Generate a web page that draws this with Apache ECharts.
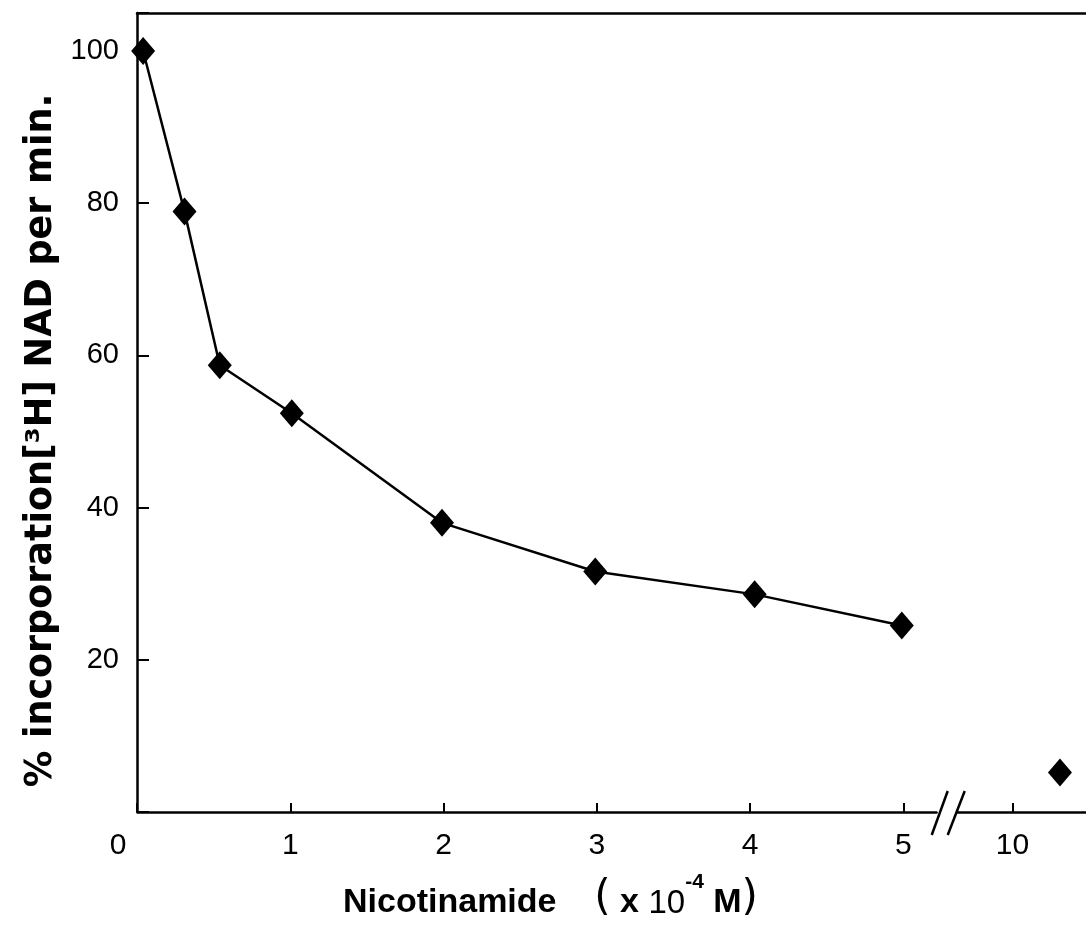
<!DOCTYPE html>
<html>
<head>
<meta charset="utf-8">
<script src="https://cdn.jsdelivr.net/npm/echarts@6/dist/echarts.min.js"></script>
<style>
  html, body { margin: 0; padding: 0; background: #ffffff; }
  #chart { width: 1086px; height: 931px; }
</style>
</head>
<body>
<div id="chart"></div>
<script>
// Nicotinamide concentration (x10^-4 M) and % incorporation of [3H]NAD per min
const concentration = [0.04, 0.31, 0.54, 1.01, 1.99, 2.99, 4.03, 4.99];
const incorporation = [100, 78.9, 58.7, 52.4, 38.0, 31.6, 28.6, 24.5];
// Separate point beyond the axis break
const highConcentration = [10.31];
const highIncorporation = [5.2];

const xTickLabels = [0, 1, 2, 3, 4, 5, 10];
const yTickLabels = [20, 40, 60, 80, 100];

const FONT = '"Liberation Sans", Arial, Helvetica, sans-serif';
const WIDE = '"DejaVu Sans", Verdana, sans-serif';

const chart = echarts.init(document.getElementById('chart'), null, { renderer: 'canvas' });

const option = {
  animation: false,
  backgroundColor: '#ffffff',
  grid: { left: 137, right: 0, top: 13, bottom: 119, containLabel: false },
  xAxis: [
    {
      type: 'value',
      min: 0,
      max: 10.48,
      interval: 1,
      // short break in the axis between 5 and 10
      breaks: [{ start: 5.218, end: 9.643, gap: 0.137 }],
      breakArea: { show: false },
      axisLine: { show: true, onZero: false, lineStyle: { color: '#000', width: 2.5 } },
      axisTick: {
        show: true, inside: true, length: 9,
        customValues: xTickLabels,
        lineStyle: { color: '#000', width: 2 }
      },
      splitLine: { show: false },
      axisLabel: {
        margin: 19,
        color: '#000',
        fontSize: 30,
        fontFamily: FONT,
        customValues: xTickLabels,
        formatter: function (v) {
          if (v === 0) return '{z|0}';
          return String(v);
        },
        rich: { z: { padding: [0, 38, 0, 0], fontSize: 30, fontFamily: FONT, color: '#000' } }
      },
      name: '{t|Nicotinamide    }{p|(}{b| x }{n|10}{s|-4}{b| M}{p|)}',
      nameLocation: 'middle',
      nameGap: 60,
      nameTextStyle: {
        padding: [0, 122, 0, 0],
        rich: {
          t: { fontSize: 34, fontWeight: 'bold', fontFamily: FONT, color: '#000', lineHeight: 44, verticalAlign: 'bottom' },
          b: { fontSize: 34, fontWeight: 'bold', fontFamily: FONT, color: '#000', lineHeight: 44, verticalAlign: 'bottom' },
          n: { fontSize: 33, fontWeight: 'normal', fontFamily: FONT, color: '#000', lineHeight: 44, verticalAlign: 'bottom' },
          s: { fontSize: 21, fontWeight: 'bold', fontFamily: FONT, color: '#000', lineHeight: 20, verticalAlign: 'top' },
          p: { fontSize: 42, fontWeight: 'normal', fontFamily: WIDE, color: '#000', lineHeight: 48, verticalAlign: 'bottom' }
        }
      }
    },
    {
      type: 'value',
      position: 'top',
      min: 0,
      max: 1,
      axisLine: { show: true, onZero: false, lineStyle: { color: '#000', width: 2.5 } },
      axisTick: { show: false },
      axisLabel: { show: false },
      splitLine: { show: false }
    }
  ],
  yAxis: {
    type: 'value',
    min: 0,
    max: 105,
    interval: 20,
    axisLine: { show: true, onZero: false, lineStyle: { color: '#000', width: 2.5 } },
    axisTick: { show: true, inside: true, length: 12, lineStyle: { color: '#000', width: 2 } },
    splitLine: { show: false },
    axisLabel: {
      margin: 18,
      color: '#000',
      fontSize: 29,
      fontFamily: FONT,
      formatter: function (v) { return yTickLabels.indexOf(v) >= 0 ? String(v) : ''; }
    },
    name: '% incorporation[³H] NAD per min.',
    nameLocation: 'middle',
    nameRotate: 90,
    nameGap: 76,
    nameTextStyle: {
      fontSize: 36.5,
      fontWeight: 'bold',
      fontFamily: WIDE,
      color: '#000',
      padding: [0, 56, 0, 0]
    }
  },
  series: [
    {
      type: 'line',
      xAxisIndex: 0,
      data: concentration.map(function (x, i) { return [x, incorporation[i]]; }),
      symbol: 'diamond',
      symbolSize: [24, 28],
      showAllSymbol: true,
      clip: false,
      itemStyle: { color: '#000', opacity: 1 },
      lineStyle: { color: '#000', width: 2.5 },
      z: 3
    },
    {
      type: 'scatter',
      xAxisIndex: 0,
      data: highConcentration.map(function (x, i) { return [x, highIncorporation[i]]; }),
      symbol: 'diamond',
      symbolSize: [24, 28],
      clip: false,
      itemStyle: { color: '#000', opacity: 1 },
      z: 3
    }
  ]
};

chart.setOption(option);

// Break marks "//" drawn across the x axis at the start of the break
const xb = chart.convertToPixel({ xAxisIndex: 0 }, 5.218);
const y0 = chart.convertToPixel({ yAxisIndex: 0 }, 0);
chart.setOption({
  graphic: [
    { type: 'line', z: 101, shape: { x1: xb - 5, y1: y0 + 23, x2: xb + 11, y2: y0 - 21 }, style: { stroke: '#000', lineWidth: 2.5 } },
    { type: 'line', z: 101, shape: { x1: xb + 11, y1: y0 + 23, x2: xb + 28, y2: y0 - 21 }, style: { stroke: '#000', lineWidth: 2.5 } }
  ]
});
</script>
</body>
</html>
